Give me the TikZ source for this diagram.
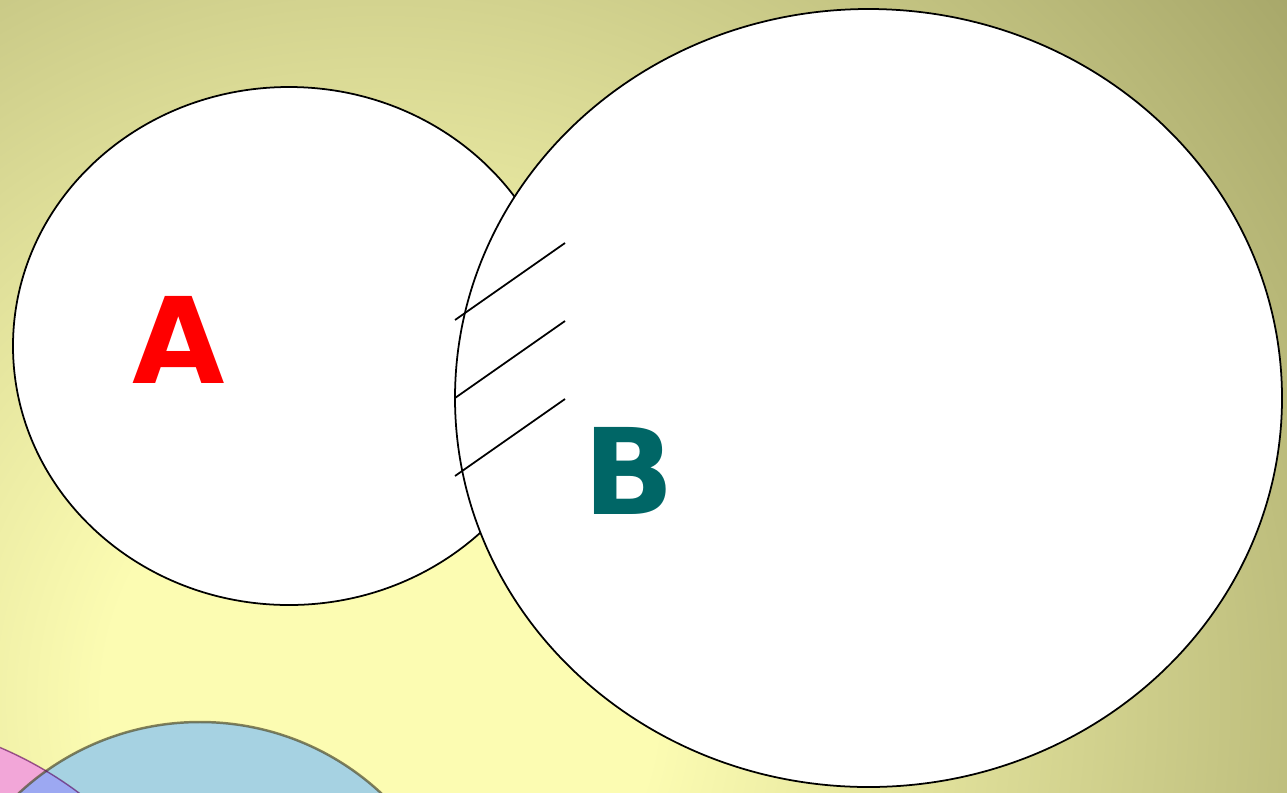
\documentclass[tikz,border=0pt]{standalone}
\usepackage{fontspec}
\setsansfont{DejaVu Sans}
\definecolor{bgin}{HTML}{FCFCB2}
\definecolor{bgout}{HTML}{A3A366}
\definecolor{setred}{HTML}{FF0000}
\definecolor{setteal}{HTML}{006666}
\definecolor{pinkset}{HTML}{F2A6D8}
\definecolor{blueset}{HTML}{A6D2E2}
\definecolor{bothset}{HTML}{9CA8F2}
\pgfdeclareradialshading{bgshade}{\pgfpoint{0bp}{0bp}}{color(0bp)=(bgin); color(6bp)=(bgin); color(26bp)=(bgout); color(50bp)=(bgout)}
\tikzset{
  setline/.style={draw=black, line width=1pt, fill=white},
  hatch/.style={draw=black, line width=1pt},
  setlabel/.style={font=\sffamily\bfseries\fontsize{68}{68}\selectfont, inner sep=0pt}
}
\begin{document}
\begin{tikzpicture}[x=0.02cm, y=-0.02cm]
\useasboundingbox (0,0) rectangle (1287,792);
% background
\begin{scope}
\clip (0,0) rectangle (1287,792);
\shade[shading=bgshade] (380,700) circle (1150);
% circles at the bottom
\fill[pinkset] (-150,1100) circle (383);
\fill[blueset] (200,988) circle (266);
\begin{scope}
\clip (-150,1100) circle (383);
\fill[bothset] (200,988) circle (266);
\end{scope}
\draw[draw=black!55!olive, line width=1.4pt, opacity=0.7] (200,988) circle (266);
\draw[draw=violet!70!black, line width=0.8pt, opacity=0.6] (-150,1100) circle (383);
\end{scope}
% the two sets
\draw[setline] (289,346) ellipse (276 and 259);
\draw[setline] (868.5,398) ellipse (413.5 and 389);
\coordinate (h1a) at (455,320);
\coordinate (h1b) at (565,243);
\coordinate (h2a) at (455,398);
\coordinate (h2b) at (565,321);
\coordinate (h3a) at (455,476);
\coordinate (h3b) at (565,399);
\draw[hatch] (h1a) -- (h1b);
\draw[hatch] (h2a) -- (h2b);
\draw[hatch] (h3a) -- (h3b);
\node[setlabel, text=setred] (labA) at (179,340) {A};
\node[setlabel, text=setteal] (labB) at (629,471) {B};
\end{tikzpicture}
\end{document}
